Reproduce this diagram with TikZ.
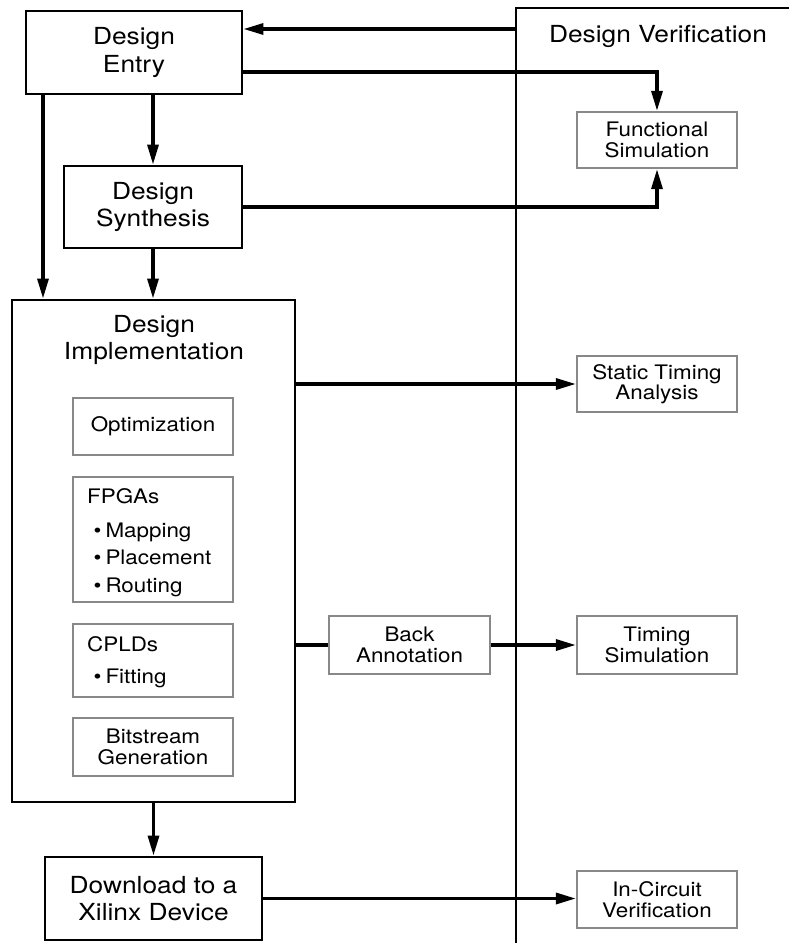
\documentclass[tikz,border=0pt]{standalone}
\usepackage{fontspec}
\setmainfont[FakeStretch=1.12]{TeX Gyre Heros}
\usetikzlibrary{arrows.meta}
\definecolor{boxgray}{RGB}{136,136,136}
\newcommand\fmain{\fontsize{23.5}{27.5}\selectfont}
\newcommand\fsub{\fontsize{20}{20.5}\selectfont}
\tikzset{
  mainbox/.style={draw, line width=2.9pt, font=\fmain, align=center, inner sep=0pt},
  subbox/.style={draw=boxgray, line width=2.3pt, font=\fsub, align=center, inner sep=0pt, minimum width=160pt},
  conn/.style={line width=3.3pt},
  arr/.style={conn, -{Triangle[length=20pt,width=11pt]}},
  vline/.style={line width=2.7pt},
  subtext/.style={font=\fsub, inner sep=0pt, anchor=base west},
}
\begin{document}
\begin{tikzpicture}[x=1pt, y=-1pt]
\useasboundingbox (0,0) rectangle (789,943);

% main boxes
\node[mainbox, minimum width=216pt, minimum height=83pt] (entry) at (134,52.5) {Design\\Entry};
\node[mainbox, minimum width=178pt, minimum height=82pt] (synth) at (153,207) {Design\\Synthesis};
\node[mainbox, minimum width=283pt, minimum height=502pt] (impl) at (153.5,551) {};
\node[font=\fmain, align=center, inner sep=0pt] (impltext) at (154,340) {Design\\Implementation};
\node[mainbox, minimum width=217pt, minimum height=83pt] (download) at (153.5,898.5) {Download to a\\Xilinx Device};

% inner boxes
\node[subbox, minimum height=57pt] (opt) at (153,426.5) {Optimization};
\node[subbox, minimum height=125pt] (fpga) at (153,539.5) {};
\node[subtext] (fpgat) at (87,503) {FPGAs};
\node[subtext] (fmap) at (93.5,537) {\textbullet\hspace{4pt}Mapping};
\node[subtext] (fplace) at (93.5,564) {\textbullet\hspace{4pt}Placement};
\node[subtext] (froute) at (93.5,592) {\textbullet\hspace{4pt}Routing};
\node[subbox, minimum height=73pt] (cpld) at (153,660.5) {};
\node[subtext] (cpldt) at (87,651) {CPLDs};
\node[subtext] (cfit) at (93.5,683) {\textbullet\hspace{4pt}Fitting};
\node[subbox, minimum height=58pt] (bit) at (153,747) {Bitstream\\Generation};

\node[subbox, minimum width=161pt, minimum height=58pt] (back) at (409.5,645) {Back\\Annotation};

% verification boxes
\node[font=\fmain, inner sep=0pt] (vtitle) at (658,36) {Design Verification};
\node[subbox, minimum height=56pt] (func) at (657,140) {Functional\\Simulation};
\node[subbox, minimum height=56pt] (static) at (657,384) {Static Timing\\Analysis};
\node[subbox, minimum height=58pt] (timing) at (657,645) {Timing\\Simulation};
\node[subbox, minimum height=57pt] (incirc) at (657,899.5) {In-Circuit\\Verification};

% verification frame
\coordinate (vright) at (789,8);
\coordinate (vtop) at (516,8);
\coordinate (vbot) at (516,943);
\draw[vline] (vright) -- (vtop) -- (vbot);

% connectors
\coordinate (fb) at (516,29);
\draw[arr] (fb) -- (fb -| entry.east);
\draw[arr] ([yshift=-19.5pt]entry.east) -| (func.north);
\draw[arr] (synth.east) -| (func.south);
\draw[arr] (entry.south -| synth.north) -- (synth.north);
\coordinate (ll) at (43,0);
\draw[arr] (entry.south -| ll) -- (impl.north -| ll);
\draw[arr] (synth.south) -- (impl.north -| synth.south);
\draw[arr] (impl.east |- static.west) -- (static.west);
\draw[conn] (impl.east |- back.west) -- (back.west);
\draw[arr] (back.east) -- (timing.west);
\draw[arr] (impl.south -| download.north) -- (download.north);
\draw[arr] (download.east) -- (download.east -| incirc.west);
\end{tikzpicture}
\end{document}
